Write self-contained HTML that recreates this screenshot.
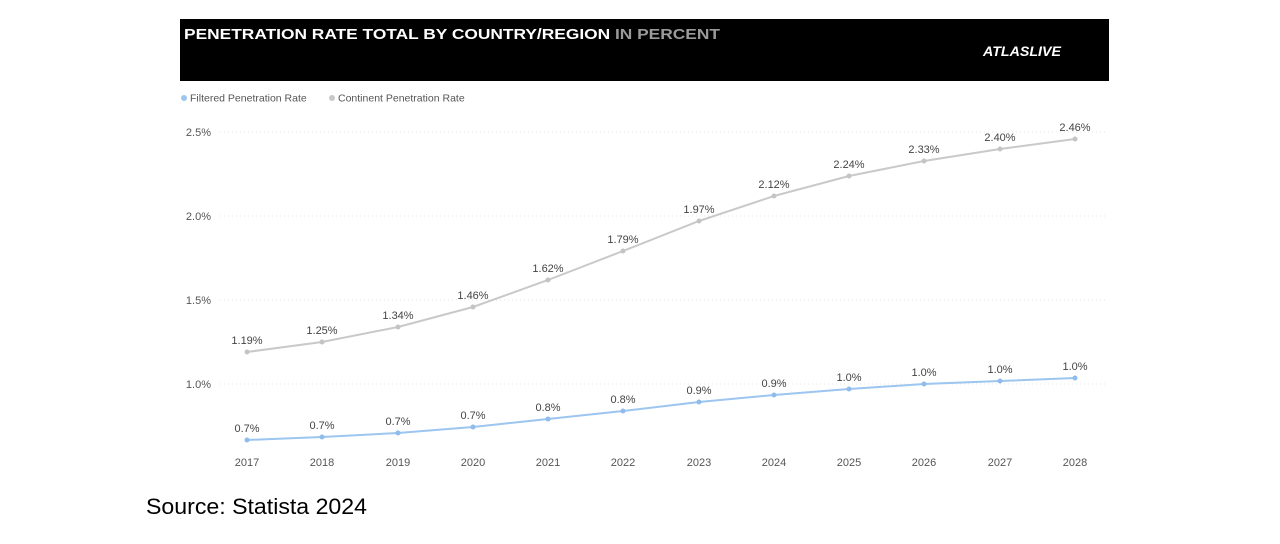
<!DOCTYPE html>
<html><head><meta charset="utf-8"><style>
body{margin:0;width:1280px;height:539px;background:#fff;overflow:hidden;font-family:"Liberation Sans",sans-serif}
</style></head><body>
<svg width="1280" height="539" xmlns="http://www.w3.org/2000/svg" font-family="Liberation Sans, sans-serif">
<rect x="180" y="19" width="929" height="62" fill="#000"/>
<text x="184" y="39" font-size="14.5" font-weight="bold" fill="#fff" textLength="536" lengthAdjust="spacingAndGlyphs">PENETRATION RATE TOTAL BY COUNTRY/REGION <tspan fill="#9a9a9a">IN PERCENT</tspan></text>
<text x="983" y="56" font-size="14" font-weight="bold" fill="#fff" font-style="italic" textLength="78" lengthAdjust="spacingAndGlyphs">ATLASLIVE</text>
<circle cx="184" cy="98" r="3" fill="#9cc5f0"/>
<text x="190" y="101.5" font-size="10.5" fill="#555">Filtered Penetration Rate</text>
<circle cx="332" cy="98" r="3" fill="#c8c8c8"/>
<text x="338" y="101.5" font-size="10.5" fill="#555">Continent Penetration Rate</text>
<g stroke="#e6e6e6" stroke-dasharray="1,3">
<line x1="220" y1="132" x2="1105" y2="132"/><line x1="220" y1="216" x2="1105" y2="216"/>
<line x1="220" y1="300" x2="1105" y2="300"/><line x1="220" y1="384" x2="1105" y2="384"/>
</g>
<g font-size="11" fill="#555" text-anchor="end">
<text x="211" y="136">2.5%</text><text x="211" y="220">2.0%</text><text x="211" y="304">1.5%</text><text x="211" y="388">1.0%</text>
</g>
<g font-size="11" fill="#555" text-anchor="middle">
<text x="247" y="466">2017</text><text x="322" y="466">2018</text><text x="398" y="466">2019</text><text x="473" y="466">2020</text><text x="548" y="466">2021</text><text x="623" y="466">2022</text><text x="699" y="466">2023</text><text x="774" y="466">2024</text><text x="849" y="466">2025</text><text x="924" y="466">2026</text><text x="1000" y="466">2027</text><text x="1075" y="466">2028</text>
</g>
<polyline fill="none" stroke="#c9c9c9" stroke-width="2" points="247,352 322,342 398,327 473,307 548,280 623,251 699,221 774,196 849,176 924,161 1000,149 1075,139"/>
<polyline fill="none" stroke="#9cc5f0" stroke-width="2" points="247,440 322,437 398,433 473,427 548,419 623,411 699,402 774,395 849,389 924,384 1000,381 1075,378"/>
<g fill="#c4c4c4">
<circle cx="247" cy="352" r="2.5"/><circle cx="322" cy="342" r="2.5"/><circle cx="398" cy="327" r="2.5"/><circle cx="473" cy="307" r="2.5"/><circle cx="548" cy="280" r="2.5"/><circle cx="623" cy="251" r="2.5"/><circle cx="699" cy="221" r="2.5"/><circle cx="774" cy="196" r="2.5"/><circle cx="849" cy="176" r="2.5"/><circle cx="924" cy="161" r="2.5"/><circle cx="1000" cy="149" r="2.5"/><circle cx="1075" cy="139" r="2.5"/>
</g>
<g fill="#8fbcec">
<circle cx="247" cy="440" r="2.5"/><circle cx="322" cy="437" r="2.5"/><circle cx="398" cy="433" r="2.5"/><circle cx="473" cy="427" r="2.5"/><circle cx="548" cy="419" r="2.5"/><circle cx="623" cy="411" r="2.5"/><circle cx="699" cy="402" r="2.5"/><circle cx="774" cy="395" r="2.5"/><circle cx="849" cy="389" r="2.5"/><circle cx="924" cy="384" r="2.5"/><circle cx="1000" cy="381" r="2.5"/><circle cx="1075" cy="378" r="2.5"/>
</g>
<g font-size="11" fill="#444" text-anchor="middle">
<text x="247" y="344">1.19%</text><text x="322" y="334">1.25%</text><text x="398" y="319">1.34%</text><text x="473" y="299">1.46%</text><text x="548" y="272">1.62%</text><text x="623" y="243">1.79%</text><text x="699" y="213">1.97%</text><text x="774" y="188">2.12%</text><text x="849" y="168">2.24%</text><text x="924" y="153">2.33%</text><text x="1000" y="141">2.40%</text><text x="1075" y="131">2.46%</text>
<text x="247" y="432">0.7%</text><text x="322" y="429">0.7%</text><text x="398" y="425">0.7%</text><text x="473" y="419">0.7%</text><text x="548" y="411">0.8%</text><text x="623" y="403">0.8%</text><text x="699" y="394">0.9%</text><text x="774" y="387">0.9%</text><text x="849" y="381">1.0%</text><text x="924" y="376">1.0%</text><text x="1000" y="373">1.0%</text><text x="1075" y="370">1.0%</text>
</g>
<text x="146" y="514" font-size="22" fill="#000" textLength="221" lengthAdjust="spacingAndGlyphs">Source: Statista 2024</text>
</svg>
</body></html>
